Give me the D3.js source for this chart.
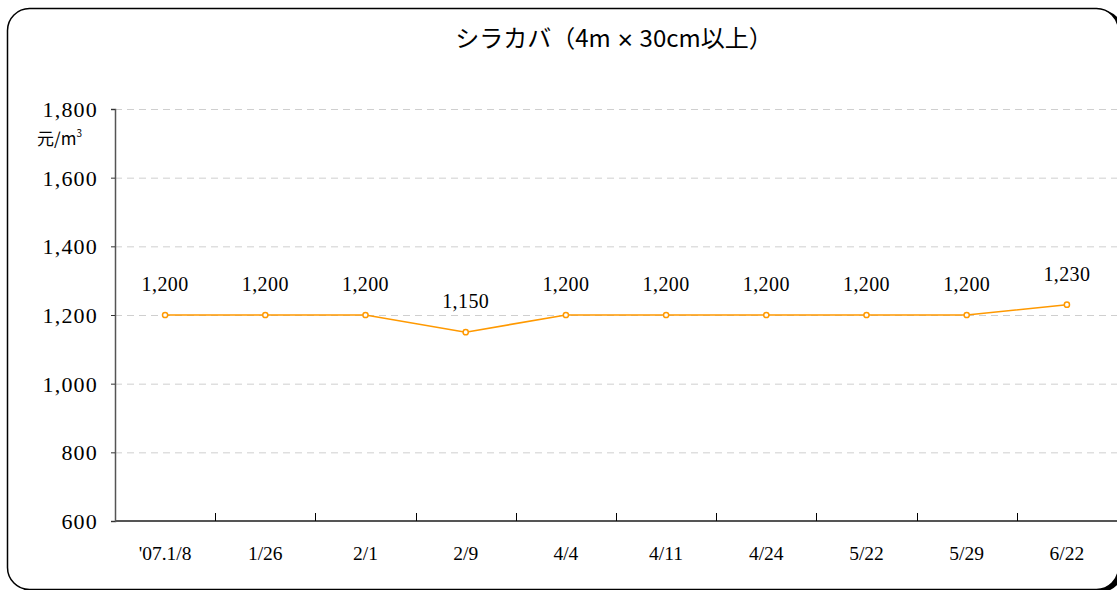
<!DOCTYPE html>
<html>
<head>
<meta charset="utf-8">
<script src="https://cdn.jsdelivr.net/npm/d3@7"></script>
<style>
  body { margin: 0; background: #fff; }
  svg { display: block; }
</style>
</head>
<body>
<svg width="1117" height="590"></svg>
<script>
var dates = ["'07.1/8", "1/26", "2/1", "2/9", "4/4", "4/11", "4/24", "5/22", "5/29", "6/22"];
var prices = [1200, 1200, 1200, 1150, 1200, 1200, 1200, 1200, 1200, 1230];
var yTicks = [600, 800, 1000, 1200, 1400, 1600, 1800];

var svg = d3.select("svg"),
  margin = { top: 109, right: 0, bottom: 69, left: 115 },
  width = +svg.attr("width") - margin.left - margin.right,
  height = +svg.attr("height") - margin.top - margin.bottom;

// frame, shadow only peeks out at the lower right corner
svg.append("rect")
  .attr("x", 12).attr("y", 10)
  .attr("width", 1111).attr("height", 582)
  .attr("rx", 22)
  .attr("fill", "#000");
svg.append("rect")
  .attr("x", 7.5).attr("y", 8.5)
  .attr("width", 1111).attr("height", 581)
  .attr("rx", 22)
  .attr("fill", "#fff")
  .attr("stroke", "#000")
  .attr("stroke-width", 1.5);

var title = svg.append("text")
  .attr("x", 614)
  .attr("y", 47)
  .attr("text-anchor", "middle")
  .attr("font-family", "'Noto Sans CJK JP', sans-serif")
  .attr("font-size", 24)
  .attr("fill", "#000");
title.append("tspan").text("シラカバ（4m ");
title.append("tspan").attr("font-size", 18).attr("font-weight", "bold").text("×");
title.append("tspan").text(" 30cm以上）");

var g = svg.append("g")
  .attr("transform", "translate(" + margin.left + "," + margin.top + ")");

var x = d3.scaleBand().domain(dates).range([0, width]);
var y = d3.scaleLinear().domain([600, 1800]).range([height, 0]);

// dashed grid
g.append("g")
  .selectAll("line")
  .data(yTicks.filter(function (d) { return d > 600; }))
  .enter().append("line")
  .attr("x1", 0).attr("x2", width)
  .attr("y1", function (d) { return y(d) + 0.5; })
  .attr("y2", function (d) { return y(d) + 0.5; })
  .attr("stroke", "#cfcfcf")
  .attr("stroke-width", 1)
  .attr("stroke-dasharray", "7,5");

// y axis
var yAxis = g.append("g")
  .call(d3.axisLeft(y).tickValues(yTicks).tickSize(4).tickFormat(d3.format(",")));
yAxis.select(".domain").attr("stroke", "#555").attr("stroke-width", 1.5);
yAxis.selectAll(".tick line").attr("stroke", "#333");
yAxis.selectAll("text")
  .attr("font-family", "'Liberation Serif', 'Times New Roman', serif")
  .attr("font-size", 22)
  .attr("letter-spacing", 1.2)
  .attr("fill", "#000")
  .attr("x", -17)
  .attr("dy", "0.34em");

// x axis: ticks between categories, pointing up
var xAxis = g.append("g")
  .attr("transform", "translate(0," + height + ")");
xAxis.append("line")
  .attr("x1", 0).attr("x2", width)
  .attr("stroke", "#555").attr("stroke-width", 2);
xAxis.selectAll("line.tk")
  .data(dates.slice(1))
  .enter().append("line")
  .attr("class", "tk")
  .attr("x1", function (d) { return Math.round(x(d)) + 0.5; })
  .attr("x2", function (d) { return Math.round(x(d)) + 0.5; })
  .attr("y1", 0).attr("y2", -8)
  .attr("stroke", "#000");
xAxis.selectAll("text")
  .data(dates)
  .enter().append("text")
  .attr("x", function (d) { return x(d) + x.bandwidth() / 2; })
  .attr("y", 39)
  .attr("text-anchor", "middle")
  .attr("font-family", "'Liberation Serif', 'Times New Roman', serif")
  .attr("font-size", 19.5)
  .attr("fill", "#000")
  .text(function (d) { return d; });

// unit label
svg.append("text")
  .attr("x", 37)
  .attr("y", 145)
  .attr("font-family", "'Noto Sans CJK JP', sans-serif")
  .attr("font-size", 17)
  .attr("fill", "#000")
  .text("元/m")
  .append("tspan")
  .attr("font-size", 10)
  .attr("dy", -8)
  .text("3");

var pts = dates.map(function (d, i) { return { date: d, value: prices[i] }; });

var line = d3.line()
  .x(function (d) { return x(d.date) + x.bandwidth() / 2; })
  .y(function (d) { return y(d.value); });

g.append("path")
  .attr("d", line(pts))
  .attr("fill", "none")
  .attr("stroke", "#ff9900")
  .attr("stroke-width", 1.6);

g.selectAll("circle")
  .data(pts)
  .enter().append("circle")
  .attr("cx", function (d) { return x(d.date) + x.bandwidth() / 2; })
  .attr("cy", function (d) { return y(d.value); })
  .attr("r", 2.6)
  .attr("fill", "#fff")
  .attr("stroke", "#ff9900")
  .attr("stroke-width", 1.5);

g.selectAll("text.lbl")
  .data(pts)
  .enter().append("text")
  .attr("class", "lbl")
  .attr("x", function (d) { return x(d.date) + x.bandwidth() / 2; })
  .attr("y", function (d) { return y(d.value) - 24; })
  .attr("text-anchor", "middle")
  .attr("font-family", "'Liberation Serif', 'Times New Roman', serif")
  .attr("font-size", 20)
  .attr("letter-spacing", 0.4)
  .attr("fill", "#000")
  .text(function (d) { return d3.format(",")(d.value); });
</script>
</body>
</html>
